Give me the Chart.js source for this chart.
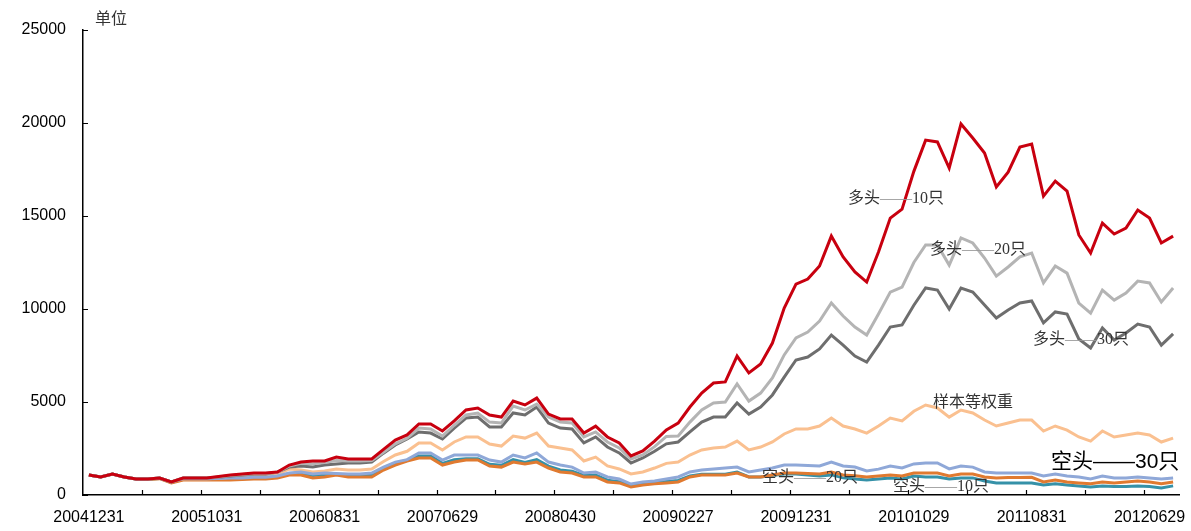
<!DOCTYPE html>
<html>
<head>
<meta charset="utf-8">
<script src="https://cdn.jsdelivr.net/npm/chart.js@4.4.0/dist/chart.umd.min.js"></script>
<style>
    body { margin: 0; background: #fff; }
    #wrap { width: 1191px; height: 531px; }
</style>
</head>
<body>
<div id="wrap"><canvas id="chLine" width="1191" height="531"></canvas></div>
<script>
// months (month-end), Dec 2004 .. Aug 2012
var months = [
    '200412',
    '200501', '200502', '200503', '200504', '200505', '200506', '200507', '200508', '200509', '200510', '200511', '200512',
    '200601', '200602', '200603', '200604', '200605', '200606', '200607', '200608', '200609', '200610', '200611', '200612',
    '200701', '200702', '200703', '200704', '200705', '200706', '200707', '200708', '200709', '200710', '200711', '200712',
    '200801', '200802', '200803', '200804', '200805', '200806', '200807', '200808', '200809', '200810', '200811', '200812',
    '200901', '200902', '200903', '200904', '200905', '200906', '200907', '200908', '200909', '200910', '200911', '200912',
    '201001', '201002', '201003', '201004', '201005', '201006', '201007', '201008', '201009', '201010', '201011', '201012',
    '201101', '201102', '201103', '201104', '201105', '201106', '201107', '201108', '201109', '201110', '201111', '201112',
    '201201', '201202', '201203', '201204', '201205', '201206', '201207', '201208'
];

// labels shown under the axis, one every 10 months
var tickLabels = ['20041231', '20051031', '20060831', '20070629', '20080430',
    '20090227', '20091231', '20101029', '20110831', '20120629'];

var yTicks = [0, 5000, 10000, 15000, 20000, 25000];

// 多头 10只
var long10 = [1075, 970, 1130, 970, 860, 860, 910, 700, 910, 910,
    910, 1000, 1075, 1130, 1180, 1180, 1240, 1610, 1770, 1830,
    1830, 2040, 1935, 1935, 1935, 2450, 2950, 3230, 3820, 3820,
    3440, 3980, 4570, 4680, 4300, 4190, 5050, 4840, 5210, 4350,
    4090, 4090, 3330, 3700, 3120, 2800, 2100, 2370, 2900, 3500,
    3870, 4730, 5480, 6020, 6080, 7470, 6560, 7040, 8170, 10050,
    11340, 11610, 12310, 13920, 12800, 11990, 11450, 13060, 14890, 15370,
    17400, 19080, 18980, 17580, 19950, 19190, 18390, 16560, 17360, 18710,
    18870, 16070, 16880, 16340, 13980, 13010, 14620, 14030, 14350, 15320,
    14890, 13550, 13920];

// 多头 20只
var long20 = [1075, 970, 1130, 970, 860, 860, 910, 700, 910, 910,
    910, 970, 1050, 1100, 1150, 1150, 1220, 1560, 1700, 1680,
    1750, 1850, 1830, 1830, 1850, 2300, 2750, 3050, 3600, 3550,
    3170, 3750, 4300, 4410, 3920, 3870, 4780, 4570, 4890, 4190,
    3920, 3870, 3120, 3390, 2850, 2530, 1935, 2150, 2600, 3150,
    3170, 3920, 4570, 4950, 5000, 5970, 5050, 5480, 6290, 7530,
    8440, 8760, 9350, 10320, 9620, 9030, 8600, 9730, 10910, 11180,
    12500, 13440, 13440, 12360, 13820, 13550, 12740, 11770, 12260, 12800,
    13010, 11400, 12310, 11930, 10320, 9780, 11020, 10480, 10860, 11500,
    11400, 10380, 11130];

// 多头 30只
var long30 = [1075, 970, 1130, 970, 860, 860, 910, 700, 910, 910,
    910, 960, 1020, 1075, 1130, 1130, 1240, 1500, 1560, 1500,
    1610, 1670, 1720, 1720, 1770, 2250, 2690, 3010, 3390, 3330,
    3010, 3600, 4140, 4190, 3660, 3660, 4410, 4300, 4730, 3870,
    3600, 3550, 2800, 3120, 2580, 2260, 1720, 1990, 2350, 2750,
    2850, 3390, 3920, 4190, 4190, 4950, 4350, 4730, 5380, 6340,
    7260, 7420, 7850, 8600, 8060, 7470, 7150, 8060, 9030, 9140,
    10200, 11130, 11020, 10000, 11130, 10910, 10210, 9520, 9950, 10320,
    10430, 9250, 9840, 9730, 8390, 7900, 8980, 8330, 8710, 9190,
    9030, 8060, 8660];

// 样本等权重
var equalW = [1075, 970, 1130, 970, 860, 860, 910, 700, 880, 880,
    880, 900, 950, 1000, 1050, 1050, 1100, 1400, 1340, 1240,
    1290, 1400, 1340, 1340, 1400, 1800, 2150, 2350, 2800, 2800,
    2420, 2850, 3120, 3120, 2740, 2630, 3170, 3060, 3330, 2630,
    2530, 2420, 1830, 2040, 1560, 1400, 1130, 1240, 1450, 1700,
    1770, 2150, 2420, 2530, 2580, 2900, 2420, 2580, 2850, 3280,
    3550, 3550, 3710, 4140, 3710, 3550, 3330, 3710, 4140, 3980,
    4500, 4840, 4680, 4190, 4570, 4410, 4030, 3710, 3870, 4030,
    4030, 3440, 3710, 3490, 3120, 2900, 3440, 3120, 3230, 3330,
    3230, 2850, 3060];

// 空头 30只
var short30 = [1075, 970, 1130, 970, 860, 860, 910, 700, 880, 880,
    880, 890, 910, 910, 960, 960, 1020, 1180, 1240, 1130,
    1180, 1150, 1130, 1130, 1180, 1500, 1770, 1900, 2260, 2260,
    1880, 2150, 2150, 2150, 1880, 1770, 2150, 1990, 2260, 1770,
    1610, 1500, 1180, 1240, 970, 860, 590, 700, 750, 860,
    970, 1240, 1340, 1400, 1450, 1500, 1240, 1340, 1450, 1610,
    1610, 1590, 1560, 1770, 1560, 1500, 1290, 1390, 1560, 1450,
    1670, 1720, 1720, 1400, 1560, 1500, 1240, 1180, 1180, 1180,
    1180, 1020, 1130, 1020, 970, 860, 1020, 920, 920, 970,
    920, 860, 920];

// 空头 20只
var short20 = [1075, 970, 1130, 970, 860, 840, 880, 650, 800, 800,
    800, 800, 800, 830, 860, 860, 910, 1075, 1075, 910,
    970, 1075, 970, 970, 970, 1340, 1610, 1830, 1990, 1990,
    1610, 1770, 1880, 1880, 1560, 1500, 1770, 1670, 1770, 1450,
    1240, 1180, 970, 970, 700, 650, 430, 540, 600, 650,
    700, 970, 1080, 1080, 1080, 1180, 970, 970, 1080, 1180,
    1180, 1150, 1130, 1240, 1080, 1030, 970, 1020, 1080, 1020,
    1180, 1180, 1180, 1020, 1130, 1130, 970, 920, 940, 940,
    950, 700, 800, 700, 650, 600, 700, 650, 700, 750,
    700, 600, 700];

// 空头 10只
var short10 = [1075, 970, 1130, 970, 860, 850, 890, 680, 850, 850,
    850, 860, 870, 880, 920, 920, 970, 1130, 1180, 1050,
    1100, 1100, 1050, 1050, 1080, 1420, 1700, 1870, 2100, 2100,
    1700, 1900, 1950, 1950, 1650, 1600, 1900, 1750, 1900, 1550,
    1350, 1280, 1050, 1080, 800, 720, 480, 580, 650, 720,
    780, 1020, 1120, 1120, 1120, 1240, 970, 970, 1050, 1130,
    1130, 1080, 1020, 1080, 920, 860, 810, 860, 920, 860,
    1020, 970, 970, 860, 920, 920, 750, 650, 650, 650,
    650, 540, 600, 540, 490, 430, 490, 460, 460, 490,
    460, 380, 490];

var serifFont = "'Liberation Serif', 'Noto Sans CJK SC', serif";
var sansFont = "'Liberation Sans', 'Noto Sans CJK SC', sans-serif";

function line(label, data, color) {
    return {
        label: label,
        data: data,
        borderColor: color,
        backgroundColor: color,
        borderWidth: 3,
        pointRadius: 0,
        tension: 0,
        fill: false
    };
}

// draw "head——tail" with a grey dash in the middle
function note(c, head, tail, x, y, textColor, dashColor) {
    c.fillStyle = textColor;
    c.fillText(head, x, y);
    x += c.measureText(head).width;
    c.fillStyle = dashColor;
    c.fillText('——', x, y);
    x += c.measureText('——').width;
    c.fillStyle = textColor;
    c.fillText(tail, x, y);
}

// inward tick marks + the text labels on the lines
var extras = {
    id: 'extras',
    afterDraw: function (chart) {
        var c = chart.ctx;
        var xs = chart.scales.x;
        var ys = chart.scales.y;
        var area = chart.chartArea;
        var half = (xs.getPixelForValue(1) - xs.getPixelForValue(0)) / 2;
        c.save();
        c.strokeStyle = '#000';
        c.lineWidth = 1.2;
        c.beginPath();
        for (var k = 5; k < months.length; k += 5) {
            var px = Math.round(xs.getPixelForValue(k) - half) + 0.5;
            c.moveTo(px, area.bottom);
            c.lineTo(px, area.bottom - 5);
        }
        yTicks.forEach(function (v) {
            var py = Math.round(ys.getPixelForValue(v)) + 0.5;
            c.moveTo(area.left, py);
            c.lineTo(area.left + 5, py);
        });
        c.stroke();

        c.textBaseline = 'middle';
        c.textAlign = 'left';
        c.font = '16px ' + serifFont;
        c.fillStyle = '#333';
        c.fillText('单位', 95, 20);
        c.fillText('样本等权重', 933, 403);

        note(c, '多头', '10只', 848, 199, '#333', '#999');
        note(c, '多头', '20只', 930, 250, '#333', '#999');
        note(c, '多头', '30只', 1033, 340, '#333', '#999');
        note(c, '空头', '20只', 762, 478, '#333', '#999');
        note(c, '空头', '10只', 893, 487, '#333', '#999');

        c.font = '21px ' + sansFont;
        note(c, '空头', '30只', 1051, 462, '#000', '#000');
        c.restore();
    }
};

var chLine = document.getElementById('chLine');
if (chLine) {
    new Chart(chLine, {
        type: 'line',
        data: {
            labels: months,
            datasets: [
                line('多头——10只', long10, '#C8000F'),
                line('多头——20只', long20, '#B4B4B4'),
                line('多头——30只', long30, '#6E6E6E'),
                line('空头——30只', short30, '#8FA8D8'),
                line('样本等权重', equalW, '#FAC090'),
                line('空头——20只', short20, '#E07A30'),
                line('空头——10只', short10, '#3591A8')
            ]
        },
        options: {
            responsive: false,
            animation: false,
            layout: { padding: { top: 30, right: 12, left: 0, bottom: 0 } },
            plugins: {
                legend: { display: false },
                tooltip: { enabled: false }
            },
            scales: {
                x: {
                    type: 'category',
                    offset: true,
                    grid: { display: true, drawOnChartArea: false, drawTicks: false, offset: true },
                    border: { display: true, color: '#000', width: 1.5 },
                    ticks: {
                        autoSkip: false,
                        maxRotation: 0,
                        padding: 13,
                        color: '#000',
                        font: { family: sansFont, size: 16 },
                        callback: function (val, index) {
                            return index % 10 === 0 ? tickLabels[index / 10] : '';
                        }
                    },
                    afterFit: function (scale) { scale.height = 36; }
                },
                y: {
                    min: 0,
                    max: 25000,
                    grid: { display: true, drawOnChartArea: false, drawTicks: false },
                    border: { display: true, color: '#000', width: 1.5 },
                    ticks: {
                        stepSize: 5000,
                        padding: 17,
                        color: '#000',
                        font: { family: sansFont, size: 16 },
                        callback: function (v) { return yTicks.indexOf(v) >= 0 ? String(v) : ''; }
                    },
                    afterFit: function (scale) { scale.width = 83; }
                }
            }
        },
        plugins: [extras]
    });
}
</script>
</body>
</html>
